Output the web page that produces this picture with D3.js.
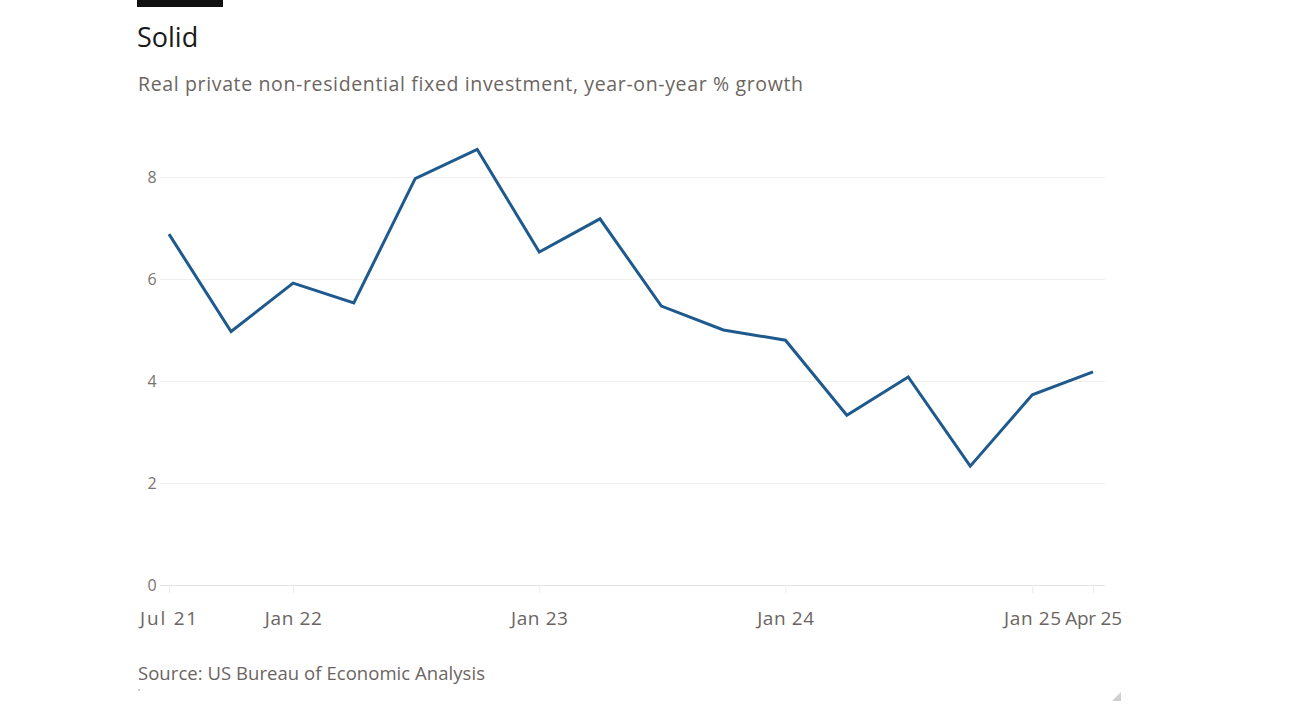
<!DOCTYPE html>
<html>
<head>
<meta charset="utf-8">
<script src="https://cdn.jsdelivr.net/npm/d3@7"></script>
<style>
  html, body { margin: 0; padding: 0; background: #ffffff; }
  svg { display: block; }
  text { font-family: "Open Sans", "Noto Sans", sans-serif; }
</style>
</head>
<body>
<svg id="chart" width="1300" height="715"></svg>
<script>
// ---- Data ----
const quarters = ["2021-07-01","2021-10-01","2022-01-01","2022-04-01","2022-07-01","2022-10-01",
                  "2023-01-01","2023-04-01","2023-07-01","2023-10-01","2024-01-01","2024-04-01",
                  "2024-07-01","2024-10-01","2025-01-01","2025-04-01"];
const growth = [6.88, 4.97, 5.92, 5.53, 7.97, 8.54, 6.53, 7.18, 5.47, 5.00, 4.80, 3.33, 4.08, 2.33, 3.73, 4.18];
const xTickDates = ["2021-07-01","2022-01-01","2023-01-01","2024-01-01","2025-01-01","2025-04-01"];
const xTickLabels = ["Jul 21","Jan 22","Jan 23","Jan 24","Jan 25","Apr 25"];
const yTicks = [0, 2, 4, 6, 8];
const titleText = "Solid";
const subtitleText = "Real private non-residential fixed investment, year-on-year % growth";
const sourceText = "Source: US Bureau of Economic Analysis";

// ---- Setup ----
const svg = d3.select("#chart");
const parse = d3.timeParse("%Y-%m-%d");
const data = quarters.map((q, i) => ({ date: parse(q), value: growth[i] }));

const x = d3.scaleTime()
  .domain([parse(quarters[0]), parse(quarters[quarters.length - 1])])
  .range([169, 1093]);
const y = d3.scaleLinear().domain([0, 8]).range([585, 177]);

function fitWidth(sel, target) {
  sel.each(function () {
    const n = this.textContent.length;
    const w = this.getComputedTextLength();
    if (n > 1) d3.select(this).attr("letter-spacing", ((target - w) / (n - 1)).toFixed(2));
  });
}

// top black bar
svg.append("rect").attr("x", 137).attr("y", 0).attr("width", 86).attr("height", 7).attr("fill", "#111");

// title, subtitle
svg.append("text").attr("x", 137).attr("y", 47)
  .attr("font-size", 27).attr("fill", "#1a1a1a").text(titleText);
svg.append("text").attr("x", 138).attr("y", 91)
  .attr("font-size", 19.5).attr("fill", "#6b6561").text(subtitleText)
  .call(fitWidth, 665);

// gridlines & y labels
const yAxis = d3.axisLeft(y).tickValues(yTicks).tickSize(0).tickPadding(0);
const gy = svg.append("g").attr("transform", "translate(160,0)").call(yAxis);
gy.select(".domain").remove();
gy.selectAll(".tick line").remove();
gy.selectAll(".tick").append("line")
  .attr("x1", 0).attr("x2", 945).attr("y1", 0).attr("y2", 0)
  .attr("stroke", d => d === 0 ? "#e6e4e2" : "#f2f0ef").attr("stroke-width", 1);
gy.selectAll(".tick text")
  .attr("x", -8).attr("dy", "0.35em").attr("text-anchor", "middle")
  .attr("font-size", 16).attr("fill", "#7a7470")
  .style("font-family", "'Open Sans', sans-serif");

// x axis
const tickMap = new Map(xTickDates.map((d, i) => [parse(d).getTime(), xTickLabels[i]]));
const xAxis = d3.axisBottom(x)
  .tickValues(xTickDates.map(parse))
  .tickSize(8).tickPadding(19)
  .tickFormat(d => tickMap.get(d.getTime()));
const gx = svg.append("g").attr("transform", "translate(0,585)").call(xAxis);
gx.select(".domain").remove();
gx.selectAll(".tick line").attr("stroke", "#eeecea");
gx.selectAll(".tick text")
  .attr("font-size", 19).attr("fill", "#6b6561")
  .style("font-family", "'Open Sans', sans-serif")
  .call(fitWidth, 57);

// line
const line = d3.line().x(d => x(d.date)).y(d => y(d.value));
svg.append("path").datum(data)
  .attr("d", line)
  .attr("fill", "none")
  .attr("stroke", "#1e5a8e")
  .attr("stroke-width", 3)
  .attr("stroke-linejoin", "miter");

// source
svg.append("text").attr("x", 138).attr("y", 680)
  .attr("font-size", 18.5).attr("fill", "#6b6561").text(sourceText)
  .call(fitWidth, 347);

// small marks at bottom
svg.append("circle").attr("cx", 139).attr("cy", 690).attr("r", 1).attr("fill", "#bbb");
svg.append("path").attr("d", "M1121,692 L1121,701 L1112,701 Z").attr("fill", "#cfcfcf");
</script>
</body>
</html>
